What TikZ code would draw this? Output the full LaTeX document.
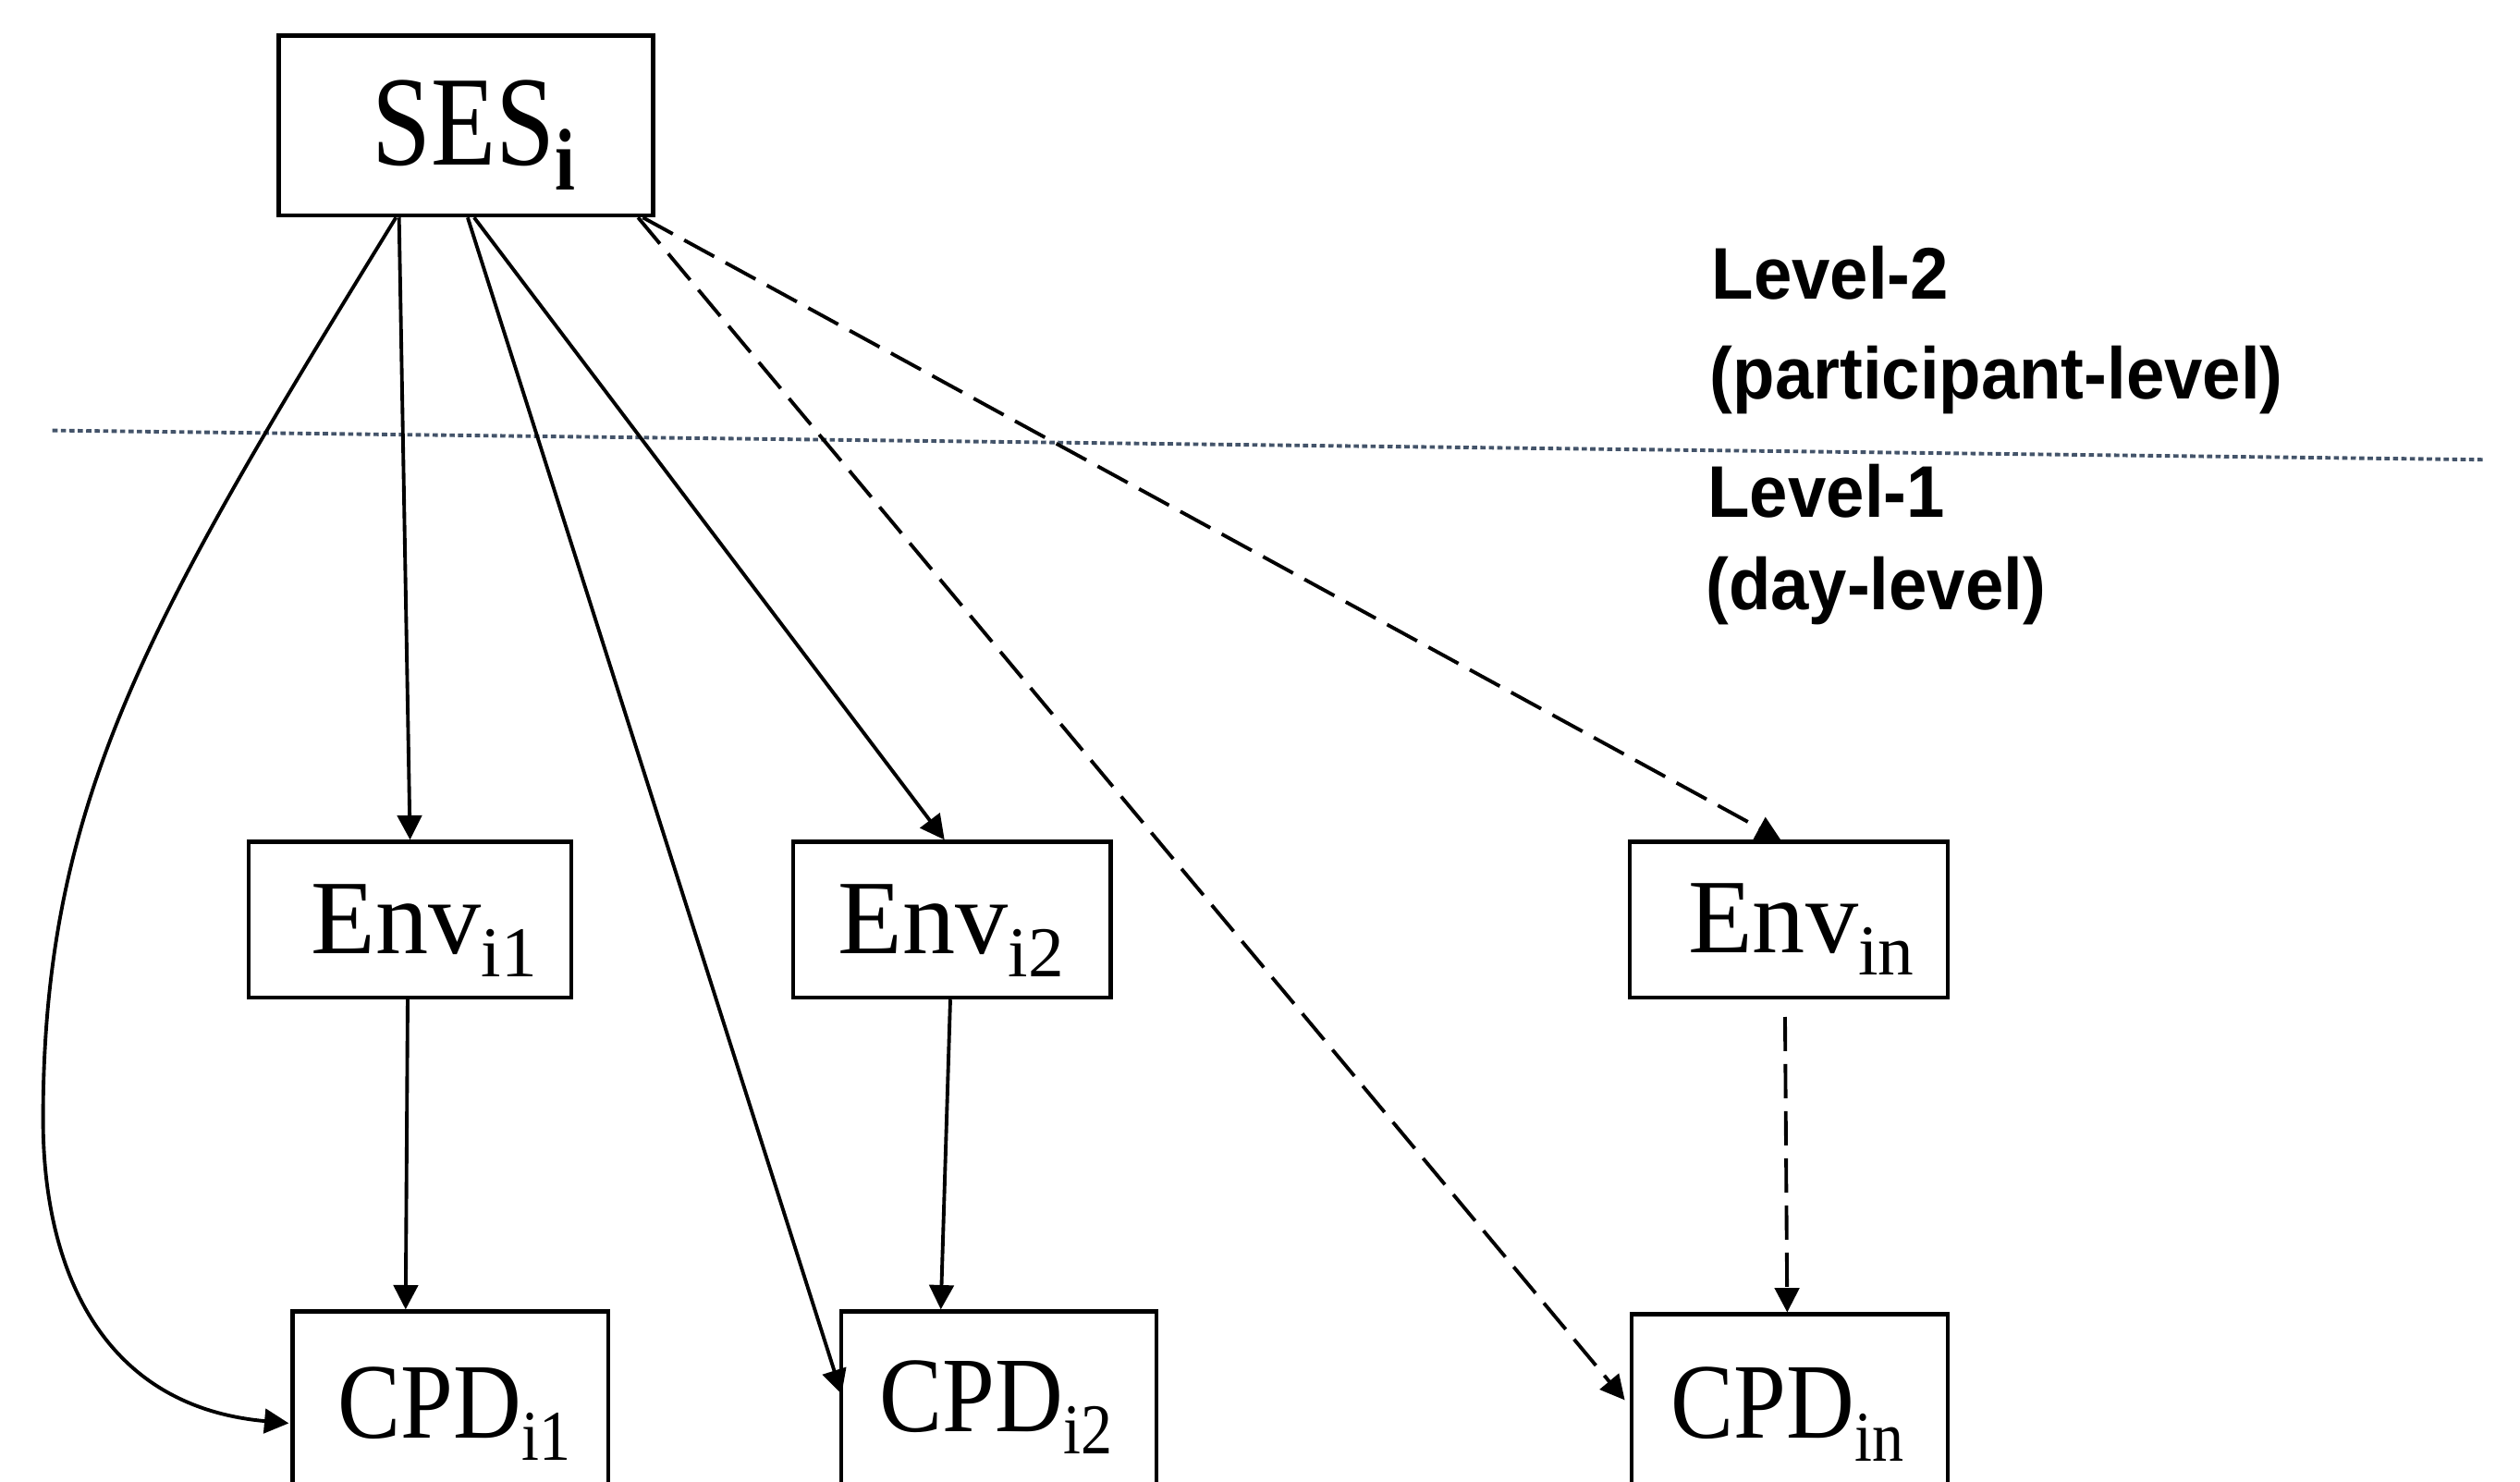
\documentclass[tikz,border=0pt]{standalone}
\usepackage{fontspec}
\setmainfont{Liberation Serif}
\newfontfamily\sesfont[FakeStretch=0.83]{Liberation Serif}
\newfontfamily\cpdfont[FakeStretch=0.88]{Liberation Serif}
\newfontfamily\lvlfont[FakeStretch=0.94]{Liberation Sans}
\usetikzlibrary{arrows.meta,calc}
\newcommand\pxu{0.017385cm}
\newcommand\sbs[1]{\raisebox{-7pt}{\fontsize{22}{22}\selectfont #1}}
\definecolor{dotcol}{HTML}{44546A}
\begin{document}
\begin{tikzpicture}[x=0.017385cm, y=-0.017385cm,
  box/.style={draw, line width=1.3pt, inner sep=0pt, minimum height=96.8*\pxu},
  conn/.style={line width=1.1pt, -{Triangle[length=7.5pt,width=7.5pt]}},
  dashconn/.style={conn, dash pattern=on 10.5pt off 4pt},
  lbl/.style={anchor=base west, inner sep=0pt},
  envtxt/.style={lbl, font=\fontsize{32.5}{33}\selectfont},
  cpdtxt/.style={lbl, font=\cpdfont\fontsize{33}{34}\selectfont},
  lvl/.style={anchor=base west, inner sep=0pt, font=\lvlfont\bfseries\fontsize{22.5}{27}\selectfont},
  dotline/.style={draw=dotcol, line width=1.1pt, dash pattern=on 1.6pt off 1pt}]
\useasboundingbox (0,0) rectangle (1568,922);
\clip (0,0) rectangle (1568,922);

% boxes
\node[box, minimum width=233*\pxu, minimum height=112*\pxu] (ses) at (290,78) {};
\node[box, minimum width=200.7*\pxu] (env1) at (255.15,572.2) {};
\node[box, minimum width=197.6*\pxu] (env2) at (592.2,572.2) {};
\node[box, minimum width=198*\pxu] (envn) at (1113,572.2) {};
\node[box, minimum width=196.5*\pxu, minimum height=160*\pxu] (cpd1) at (280.25,896) {};
\node[box, minimum width=196*\pxu, minimum height=160*\pxu] (cpd2) at (621.5,896) {};
\node[box, minimum width=196.7*\pxu, minimum height=160*\pxu] (cpdn) at (1113.65,897.8) {};

% box texts
\node[lbl, font=\sesfont\fontsize{39.4}{40}\selectfont] (sest) at (231,102.4)
  {SES\raisebox{-7.7pt}{\fontsize{27}{27}\selectfont\bfseries i}};
\node[envtxt] (env1t) at (193.3,593.4) {Env\sbs{i1}};
\node[envtxt] (env2t) at (521,593.4) {Env\sbs{i2}};
\node[envtxt] (envnt) at (1050,592.6) {Env\sbs{in}};
\node[cpdtxt] (cpd1t) at (210,894.5) {CPD\sbs{i1}};
\node[cpdtxt] (cpd2t) at (547,890.5) {CPD\sbs{i2}};
\node[cpdtxt] (cpdnt) at (1039.4,895) {CPD\sbs{in}};

% level labels
\node[lvl] (l2) at (1064.7,186) {Level-2};
\node[lvl] (l2b) at (1063.6,248.3) {(participant-level)};
\node[lvl] (l1) at (1062.3,322) {Level-1};
\node[lvl] (l1b) at (1061,379.6) {(day-level)};

% dotted separator
\coordinate (dl1) at (32.6,267.8);
\coordinate (dl2) at (1545.9,286);
\draw[dotline] (dl1) -- (dl2);

% connectors
\coordinate (bend) at (26.8,696.4);
\draw[conn] ($(ses.south)+(-43.6,0)$) .. controls (94,383) and (26.8,496) .. (bend)
  .. controls (26.8,786.4) and (61,874.8) .. ($(cpd1.north west)+(-1,70.8)$);
\draw[conn] ($(ses.south)+(-41.7,0)$) -- (env1.north);
\draw[conn] ($(ses.south)+(1,0)$) -- ($(cpd2.north west)+(1.5,52.6)$);
\draw[conn] ($(ses.south)+(5,0)$) -- ($(env2.north)+(-4.5,0)$);
\draw[dashconn] ($(ses.south)+(107,0)$) -- ($(cpdn.north west)+(-3,54.6)$);
\draw[dashconn] ($(ses.south)+(110,0)$) -- ($(envn.north)+(-5,0)$);
\draw[conn] ($(env1.south)+(-1.5,0)$) -- ($(cpd1.north west)+(71.7,0)$);
\draw[conn] ($(env2.south)+(-0.9,0)$) -- ($(cpd2.north west)+(63.2,0)$);
\draw[dashconn] ($(envn.south)+(-2.3,10.8)$) -- ($(cpdn.north)+(-1.6,0)$);
\end{tikzpicture}
\end{document}
